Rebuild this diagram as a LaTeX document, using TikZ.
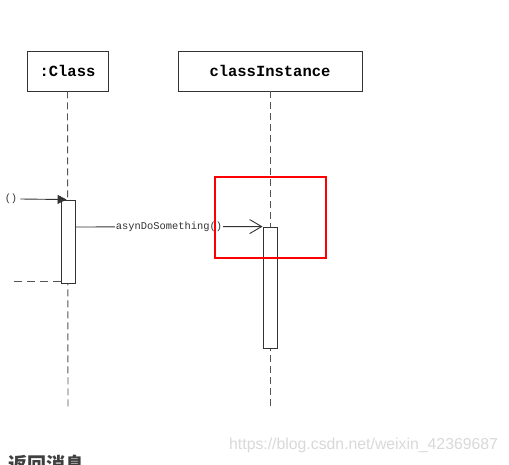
\documentclass[tikz,border=0pt]{standalone}
\usepackage{fontspec}
\setmonofont{Liberation Mono}
\newfontfamily\cjkfont{Noto Sans CJK SC}
\newfontfamily\wmfont{Liberation Sans}
\usetikzlibrary{arrows.meta}
\definecolor{lineg}{HTML}{333333}
\definecolor{dashg}{HTML}{555555}
\begin{document}
\begin{tikzpicture}[x=1pt,y=-1pt,
  objbox/.style={draw=lineg,line width=0.9pt,fill=white,inner sep=0pt,font=\ttfamily\bfseries\fontsize{15.5}{17}\selectfont},
  actbox/.style={draw=lineg,line width=0.9pt,fill=white,inner sep=0pt},
  lifeline/.style={draw=dashg,line width=0.9pt,dash pattern=on 7pt off 4pt},
  msg/.style={draw=lineg,line width=0.9pt},
  lbl/.style={font=\ttfamily\fontsize{10.4}{12}\selectfont,inner sep=1pt,fill=white,text=lineg}]
\useasboundingbox (0,0) rectangle (509,465);
\fill[white] (0,0) rectangle (509,465);
\begin{scope}
\clip (0,0) rectangle (509,465);
% header boxes
\node[objbox,minimum width=81pt,minimum height=40pt] (cls) at (67.5,71) {:Class};
\node[objbox,minimum width=184pt,minimum height=40pt] (inst) at (270,71) {classInstance};
% lifeline ends
\coordinate (clsend) at (68,410);
\coordinate (instend) at (270,410);
\draw[lifeline] (cls.south) -- (clsend);
\draw[lifeline] (inst.south) -- (instend);
% activations
\node[actbox,minimum width=14pt,minimum height=83pt] (act1) at (68,241.5) {};
\node[actbox,minimum width=14pt,minimum height=121pt] (act2) at (270,287.5) {};
% incoming found message
\node[font=\ttfamily\fontsize{10.4}{12}\selectfont,text=lineg,inner sep=0pt] (found) at (11,199) {()};
\coordinate (fstart) at ([xshift=3pt]found.east);
\draw[msg,-{Triangle[length=9pt,width=9pt]}] (fstart) -- ([xshift=6pt]act1.north west);
% return dashed
\coordinate (retend) at (10,281);
\draw[draw=dashg,line width=0.9pt,dash pattern=on 8pt off 5pt] (act1.south west |- 0,281) -- (retend);
% async message
\coordinate (m1) at (act1.east |- 0,227);
\draw[msg,-{Straight Barb[length=12pt,width=14pt,line width=0.9pt]}] (m1) -- (act2.north west)
  node[lbl,pos=0.5] {asynDoSomething()};
% red highlight
\draw[red,line width=2.5pt] (215,177) rectangle (326,258);
% watermark
\node[font=\wmfont\fontsize{15.8}{17}\selectfont,text=black!15,anchor=west,inner sep=0pt] (wm) at (229,445) {https://blog.csdn.net/weixin\_42369687};
% cut-off heading (cut by the page edge, as in the reference)
\node[font=\cjkfont\bfseries\fontsize{19}{21}\selectfont,text=black!75,anchor=north west,inner sep=0pt] (hd) at (8,455) {返回消息};
\end{scope}
\end{tikzpicture}
\end{document}
